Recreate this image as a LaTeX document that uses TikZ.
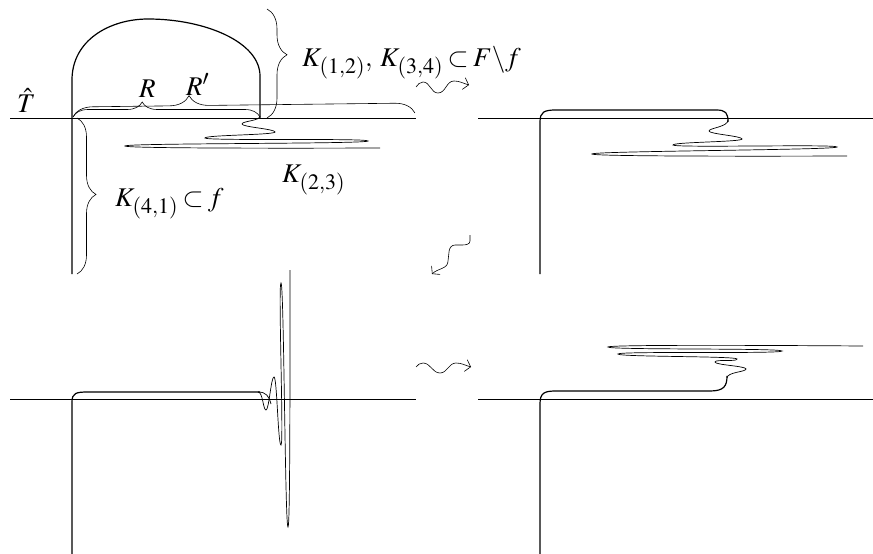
\documentclass[tikz,border=0pt]{standalone}
\usepackage{mathptmx}
\DeclareMathSizes{27}{27}{22}{17}
\usetikzlibrary{decorations.pathreplacing,arrows.meta}
\begin{document}
\begin{tikzpicture}[x=1pt,y=-1pt,
  axis/.style={line width=0.6pt},
  curve/.style={line width=1.2pt,line join=round},
  wig/.style={line width=0.7pt},
  brc/.style={line width=0.6pt,decorate},
  sq/.style={line width=0.6pt,-{Straight Barb[length=5pt,width=12pt]}},
  lbl/.style={inner sep=0pt,anchor=base west,font=\fontsize{27}{32}\selectfont}]
\useasboundingbox (0,0) rectangle (873,554);

% ---------- panel 1 ----------
\draw[axis] (10,118) -- (416,118);
\draw[curve] (72,274) -- (72,80) .. controls (72,40) and (110,19) .. (148,19)
  .. controls (205,19) and (260,42) .. (260,76) -- (260,118);
\draw[wig] (260,116) .. controls (260,121) and (242,121) .. (242,124)
  .. controls (242,127) and (275,129) .. (275,132)
  .. controls (275,135) and (205,135) .. (205,138)
  .. controls (205,141) and (368,138) .. (368,141)
  .. controls (368,144) and (125,143) .. (125,146)
  .. controls (125,149) and (380,148) .. (380,148);
\draw[brc,decoration={brace,amplitude=15pt,aspect=0.37}] (73,117) -- (260,117);
\draw[brc,decoration={brace,amplitude=20pt,aspect=0.34}] (73,117) -- (415,113);
\draw[brc,decoration={brace,amplitude=20pt,aspect=0.42}] (267,9) -- (267,118);
\draw[brc,decoration={brace,amplitude=19pt,aspect=0.49}] (77,118) -- (77,274);
\node[lbl] (lT) at (17,112) {$\hat{T}$};
\node[lbl] (lR) at (139,97) {$R$};
\node[lbl] (lRp) at (186,95) {$R'$};
\node[lbl] (lK12) at (302,66) {$\thickmuskip=3mu K_{(1,2)},\; K_{(3,4)} \subset F\backslash f$};
\node[lbl] (lK23) at (282,182) {$K_{(2,3)}$};
\node[lbl] (lK41) at (115,206) {$\thickmuskip=3mu K_{(4,1)} \subset f$};

% ---------- panel 2 ----------
\draw[axis] (478,118) -- (873,118);
\draw[curve] (540,274) -- (540,122) .. controls (540,112) and (544,110) .. (556,110)
  -- (716,110) .. controls (726,110) and (728,113) .. (728,122);
\draw[wig] (728,120) .. controls (728,127) and (709,128) .. (709,131)
  .. controls (709,134) and (742,136) .. (742,139)
  .. controls (742,142) and (673,142) .. (673,145)
  .. controls (673,148) and (837,144) .. (837,147)
  .. controls (837,150) and (592,151) .. (592,154)
  .. controls (592,157) and (847,156) .. (847,156);

% ---------- panel 3 ----------
\draw[axis] (10,399) -- (416,399);
\draw[curve] (72,554) -- (72,402) .. controls (72,393) and (76,392) .. (88,392) -- (260,392);
\draw[wig] (258,392) .. controls (263,392) and (263,410) .. (266,410)
  .. controls (269,410) and (271,377) .. (274,377)
  .. controls (277,377) and (278,445) .. (281,445)
  .. controls (284,445) and (278,283) .. (281,283)
  .. controls (284,283) and (285,527) .. (288,527)
  .. controls (290,527) and (290,400) .. (290,270);
\draw[wig] (258,392) .. controls (266,392) and (269,396) .. (271,404);

% ---------- panel 4 ----------
\draw[axis] (478,399) -- (873,399);
\draw[curve] (540,554) -- (540,404) .. controls (540,393) and (544,391) .. (556,391)
  -- (710,391) .. controls (724,391) and (727,386) .. (727,376);
\draw[wig] (727,378) .. controls (727,372) and (746,372) .. (746,369)
  .. controls (746,366) and (715,365) .. (715,362)
  .. controls (715,359) and (737,362) .. (737,359)
  .. controls (737,356) and (618,357) .. (618,354)
  .. controls (618,351) and (782,354) .. (782,351)
  .. controls (782,348) and (608,350) .. (608,347)
  .. controls (608,344) and (863,346) .. (863,346);

% ---------- squiggle arrows ----------
\draw[sq] (416,87) to[out=50,in=180] (423,82) to[out=0,in=180] (438,93)
  to[out=0,in=180] (454,81) to[out=0,in=165] (469,85);
\draw[sq] (416,367) to[out=50,in=180] (423,363) to[out=0,in=180] (440,373)
  to[out=0,in=180] (456,363) to[out=0,in=165] (471,367);
\draw[sq] (470,235) -- (470,241) to[out=-90,in=0] (462,245) -- (455,245)
  to[out=180,in=90] (449,252) -- (448,261) to[out=-90,in=45] (432,274);
\end{tikzpicture}
\end{document}
